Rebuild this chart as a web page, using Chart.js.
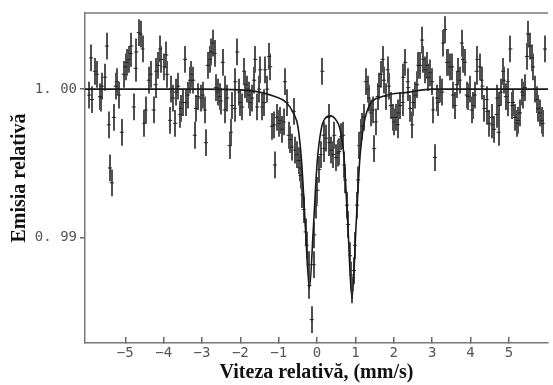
<!DOCTYPE html>
<html>
<head>
<meta charset="utf-8">
<script src="https://cdn.jsdelivr.net/npm/chart.js@4.4.1/dist/chart.umd.min.js"></script>
<style>
  body { margin: 0; background: #fff; }
  canvas { display: block; }
</style>
</head>
<body>
<canvas id="spectrum" width="553" height="385"></canvas>
<script>
// measured points (velocity in mm/s, relative emission)
const velocity = [
    -5.94, -5.89, -5.87, -5.79, -5.74, -5.66, -5.63, -5.61, -5.53, -5.48, -5.43, -5.40, -5.35, -5.30, -5.25, -5.22, -5.17, -5.09, -5.04, -4.99, -4.96, -4.91, -4.86, -4.84, -4.78, -4.73, -4.71, -4.65, -4.60, -4.55, -4.50,
    -4.47, -4.39, -4.34, -4.26, -4.21, -4.19, -4.14, -4.09, -4.06, -3.98, -3.93, -3.91, -3.83, -3.80, -3.75, -3.70, -3.68, -3.62, -3.57, -3.55, -3.49, -3.44, -3.42, -3.37, -3.31, -3.28, -3.23, -3.19, -3.16, -3.11, -3.03, -2.98,
    -2.93, -2.90, -2.85, -2.80, -2.77, -2.72, -2.67, -2.64, -2.59, -2.54, -2.51, -2.46, -2.41, -2.39, -2.34, -2.28, -2.25, -2.21, -2.15, -2.13, -2.08, -2.03, -2.00, -1.95, -1.90, -1.87, -1.82, -1.77, -1.74, -1.69, -1.64, -1.61, -1.56, -1.51, -1.48, -1.43,
    -1.38, -1.35, -1.30, -1.25, -1.22, -1.18, -1.12, -1.10, -1.05, -0.99, -0.97, -0.92, -0.87, -0.84, -0.79, -0.74, -0.71, -0.66, -0.61, -0.58, -0.53, -0.48, -0.45, -0.43, -0.38, -0.35, -0.30, -0.27, -0.22, -0.20, -0.14, -0.09, -0.07, -0.02, 0.01, 0.06, 0.09, 0.14,
    0.17, 0.19, 0.24, 0.30, 0.32, 0.37, 0.42, 0.45, 0.50, 0.55, 0.58, 0.63, 0.68, 0.71, 0.73, 0.78, 0.81, 0.86, 0.89, 0.91, 0.96, 0.99, 1.04, 1.07, 1.10, 1.14, 1.18, 1.22, 1.27, 1.32, 1.35, 1.40, 1.45, 1.49, 1.53, 1.58, 1.61, 1.66,
    1.71, 1.74, 1.79, 1.84, 1.87, 1.92, 1.97, 2.00, 2.05, 2.10, 2.12, 2.17, 2.23, 2.25, 2.30, 2.36, 2.38, 2.43, 2.48, 2.51, 2.56, 2.61, 2.64, 2.69, 2.74, 2.77, 2.82, 2.87, 2.90, 2.95, 3.00, 3.03, 3.07, 3.13, 3.15, 3.21,
    3.26, 3.29, 3.34, 3.39, 3.41, 3.46, 3.52, 3.54, 3.59, 3.64, 3.67, 3.72, 3.77, 3.80, 3.85, 3.90, 3.93, 3.98, 4.03, 4.06, 4.11, 4.16, 4.18, 4.24, 4.29, 4.31, 4.36, 4.42, 4.44, 4.49, 4.55, 4.57, 4.62, 4.68, 4.70, 4.73, 4.75,
    4.79, 4.85, 4.87, 4.92, 4.97, 4.99, 5.04, 5.09, 5.11, 5.16, 5.22, 5.24, 5.29, 5.35, 5.37, 5.42, 5.47, 5.50, 5.55, 5.60, 5.63, 5.68, 5.73, 5.76, 5.81, 5.86, 5.88, 5.94
];
const emission = [
    0.9996, 1.0021, 0.9993, 1.0012, 1.0010, 0.9995, 0.9994, 1.0002, 1.0008, 1.0029, 0.9976, 0.9947, 0.9937, 0.9981, 1.0002, 1.0005, 0.9996, 0.9971, 1.0010, 1.0015, 1.0018, 1.0020, 1.0024, 1.0029, 0.9988, 1.0014, 1.0025, 1.0038, 1.0037, 1.0027, 0.9977,
    0.9986, 1.0006, 1.0010, 0.9986, 1.0003, 1.0012, 1.0016, 1.0027, 1.0020, 1.0015, 1.0023, 1.0010, 0.9979, 1.0000, 0.9994, 0.9977, 0.9998, 1.0002, 0.9983, 0.9987, 0.9991, 1.0020, 0.9991, 0.9996, 1.0006, 1.0010, 1.0006, 0.9969, 0.9987, 0.9995, 0.9994, 0.9996,
    0.9986, 0.9964, 1.0016, 1.0020, 1.0025, 1.0031, 1.0024, 1.0001, 0.9998, 0.9995, 0.9992, 1.0018, 0.9986, 1.0000, 0.9994, 0.9962, 0.9971, 0.9989, 0.9987, 1.0005, 1.0025, 0.9998, 0.9991, 0.9988, 1.0012, 1.0003, 1.0000, 0.9996, 0.9991, 0.9994, 1.0006, 1.0020, 0.9988, 1.0000, 1.0013, 0.9988,
    0.9991, 1.0013, 1.0000, 1.0022, 1.0015, 0.9975, 0.9976, 0.9949, 0.9981, 0.9977, 0.9979, 0.9973, 0.9978, 1.0005, 0.9991, 0.9969, 0.9966, 0.9961, 0.9985, 0.9959, 0.9956, 0.9952, 0.9947, 0.9942, 0.9929, 0.9919, 0.9904, 0.9895, 0.9882, 0.9868, 0.9845, 0.9882, 0.9902, 0.9922, 0.9932, 0.9946, 0.9956, 1.0012,
    0.9969, 0.9960, 0.9967, 0.9981, 0.9964, 0.9959, 0.9956, 0.9969, 0.9954, 0.9957, 0.9958, 0.9968, 0.9969, 0.9949, 0.9939, 0.9922, 0.9909, 0.9888, 0.9875, 0.9865, 0.9878, 0.9895, 0.9922, 0.9939, 0.9962, 0.9971, 0.9975, 0.9981, 1.0005, 1.0000, 0.9994, 0.9984, 0.9986, 0.9960, 0.9978, 0.9995, 1.0002, 1.0010,
    1.0020, 1.0006, 0.9995, 1.0013, 1.0002, 0.9989, 0.9981, 0.9978, 0.9981, 0.9976, 0.9984, 0.9989, 0.9991, 1.0008, 1.0018, 1.0005, 1.0001, 0.9987, 0.9976, 0.9991, 0.9996, 1.0003, 1.0016, 1.0016, 1.0033, 1.0020, 1.0013, 1.0016, 1.0008, 1.0011, 1.0005, 0.9986, 0.9954, 0.9994, 0.9991, 1.0000,
    0.9998, 1.0031, 1.0040, 1.0018, 1.0018, 1.0015, 1.0015, 0.9996, 0.9989, 1.0003, 1.0012, 1.0006, 1.0031, 1.0020, 1.0018, 0.9996, 0.9995, 1.0000, 0.9986, 0.9989, 0.9996, 1.0012, 1.0020, 1.0015, 1.0006, 1.0002, 0.9987, 0.9993, 0.9985, 0.9977, 0.9981, 0.9976, 0.9973, 0.9983, 0.9994, 0.9971, 0.9989,
    0.9998, 1.0012, 1.0006, 0.9995, 1.0005, 0.9991, 1.0027, 0.9989, 0.9991, 0.9981, 0.9977, 0.9979, 0.9984, 0.9998, 0.9996, 1.0001, 1.0022, 1.0037, 1.0029, 1.0021, 1.0015, 1.0000, 0.9993, 0.9987, 0.9984, 0.9979, 0.9977, 1.0027
];
const errorBar = 0.0009; // statistical error, same for every channel

// fitted doublet
const fitVelocity = [-6.05, -3.0, -2.0, -1.5, -1.1, -0.8, -0.6, -0.5, -0.4, -0.3, -0.2, -0.1, 0.0, 0.1, 0.2, 0.35, 0.5, 0.6, 0.7, 0.8, 0.91, 1.02, 1.12, 1.3, 1.7, 2.4, 3.0, 6.05];
const fitEmission = [1.0000, 1.0000, 0.99995, 0.9998, 0.9995, 0.9991, 0.9983, 0.9975, 0.9950, 0.9905, 0.9866, 0.9905, 0.9950, 0.9972, 0.9980, 0.9982, 0.9979, 0.9973, 0.9955, 0.9910, 0.9859, 0.9910, 0.9955, 0.9985, 0.9995, 0.9998, 1.0000, 1.0000];

const xTicks = [-5, -4, -3, -2, -1, 0, 1, 2, 3, 4, 5];
const yTicks = [0.99, 1.00];
const xRange = [-6.05, 6.02];
const yRange = [0.98293, 1.00512];

const tickFont = { family: "DejaVu Sans Mono", size: 14 };
const titleFont = { family: "Liberation Serif", size: 20, weight: "bold" };

// vertical error bars, drawn under the fit line
const errorBars = {
    id: "errorBars",
    beforeDatasetsDraw(chart) {
        const { ctx, chartArea, scales: { x, y } } = chart;
        ctx.save();
        ctx.beginPath();
        ctx.rect(chartArea.left, chartArea.top, chartArea.right - chartArea.left, chartArea.bottom - chartArea.top);
        ctx.clip();
        ctx.strokeStyle = "#505050";
        ctx.lineWidth = 2;
        velocity.forEach((v, i) => {
            let px = Math.round(x.getPixelForValue(v));
            ctx.beginPath();
            ctx.moveTo(px, y.getPixelForValue(emission[i] - errorBar));
            ctx.lineTo(px, y.getPixelForValue(emission[i] + errorBar));
            ctx.stroke();
        });
        ctx.restore();
    }
};

// top edge of the frame
const frameTop = {
    id: "frameTop",
    afterDraw(chart) {
        const { ctx, chartArea } = chart;
        ctx.save();
        ctx.strokeStyle = "#777";
        ctx.lineWidth = 1.5;
        ctx.beginPath();
        ctx.moveTo(chartArea.left, chartArea.top);
        ctx.lineTo(chartArea.right, chartArea.top);
        ctx.stroke();
        ctx.restore();
    }
};

new Chart(document.getElementById("spectrum").getContext("2d"), {
    type: "scatter",
    data: {
        datasets: [{
            label: "masurat",
            data: velocity.map((v, i) => ({ x: v, y: emission[i] })),
            pointStyle: "line",
            pointRadius: 2,
            borderColor: "#222",
            borderWidth: 1
        }, {
            type: "line",
            label: "fit",
            data: fitVelocity.map((v, i) => ({ x: v, y: fitEmission[i] })),
            borderColor: "#1a1a1a",
            borderWidth: 1.6,
            pointRadius: 0,
            cubicInterpolationMode: "monotone",
            fill: false
        }]
    },
    options: {
        responsive: false,
        animation: false,
        layout: { padding: { top: 13, right: 0, left: 0, bottom: 0 } },
        plugins: { legend: { display: false }, tooltip: { enabled: false } },
        scales: {
            x: {
                type: "linear",
                min: xRange[0],
                max: xRange[1],
                afterBuildTicks: axis => { axis.ticks = xTicks.map(value => ({ value })); },
                afterFit: axis => { axis.height = 42; },
                ticks: {
                    callback: v => String(v).replace("-", "\u2212"),
                    font: tickFont,
                    color: "#555",
                    padding: 8,
                    maxRotation: 0,
                    autoSkip: false
                },
                grid: { drawOnChartArea: false, tickLength: -6, color: "#666", lineWidth: 1.5 },
                border: { color: "#777", width: 1.5 },
                title: { display: true, text: "Viteza relativă, (mm/s)", font: titleFont, color: "#111", padding: { top: 0, bottom: 0 } }
            },
            y: {
                min: yRange[0],
                max: yRange[1],
                afterBuildTicks: axis => { axis.ticks = yTicks.map(value => ({ value })); },
                afterFit: axis => { axis.width = 85; },
                ticks: {
                    callback: v => v.toFixed(2).replace(".", ". "),
                    font: tickFont,
                    color: "#555",
                    padding: 3
                },
                grid: { drawOnChartArea: false, tickLength: 5, color: "#666", lineWidth: 1.5 },
                border: { color: "#777", width: 1.5 },
                title: { display: true, text: "Emisia relativă", font: titleFont, color: "#111", padding: { top: 8, bottom: 0 } }
            }
        }
    },
    plugins: [errorBars, frameTop]
});
</script>
</body>
</html>
